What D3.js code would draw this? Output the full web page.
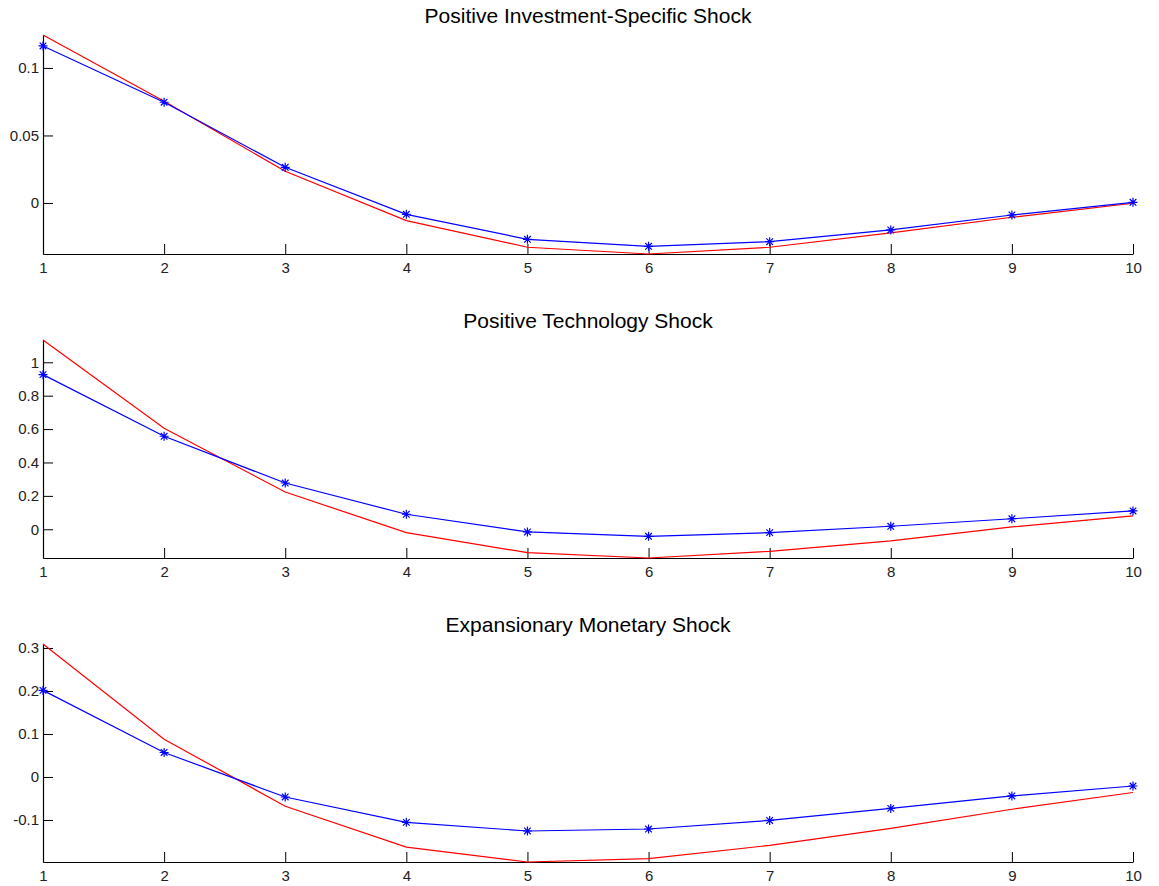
<!DOCTYPE html>
<html>
<head>
<meta charset="utf-8">
<script src="https://cdn.jsdelivr.net/npm/d3@7"></script>
<style>
  html, body { margin: 0; padding: 0; background: #fff; }
  svg { display: block; }
  text { font-family: "Liberation Sans", Arial, Helvetica, sans-serif; fill: #222; }
</style>
</head>
<body>
<svg id="chart" width="1159" height="886"></svg>
<script>
// ---------- data ----------
const periods = [1, 2, 3, 4, 5, 6, 7, 8, 9, 10];
const xTickLabels = ["1", "2", "3", "4", "5", "6", "7", "8", "9", "10"];

const titles = [
  "Positive Investment-Specific Shock",
  "Positive Technology Shock",
  "Expansionary Monetary Shock"
];

// red series (no markers)
const invRed  = [0.1244, 0.0753, 0.0235, -0.0131, -0.0328, -0.0378, -0.0328, -0.0222, -0.0106, -0.0002];
const techRed = [1.1335, 0.605, 0.223, -0.020, -0.140, -0.172, -0.132, -0.070, 0.014, 0.080];
const monRed  = [0.3093, 0.088, -0.068, -0.163, -0.1977, -0.190, -0.159, -0.1195, -0.075, -0.036];

// blue series (asterisk markers)
const invBlue  = [0.1163, 0.0746, 0.0264, -0.0084, -0.0269, -0.0321, -0.0287, -0.0200, -0.0089, 0.0005];
const techBlue = [0.926, 0.557, 0.277, 0.090, -0.016, -0.042, -0.020, 0.018, 0.063, 0.110];
const monBlue  = [0.2014, 0.057, -0.0465, -0.1055, -0.1256, -0.121, -0.101, -0.073, -0.044, -0.021];

const invTicks  = [0, 0.05, 0.1];
const invTickLabels  = ["0", "0.05", "0.1"];
const techTicks = [0, 0.2, 0.4, 0.6, 0.8, 1];
const techTickLabels = ["0", "0.2", "0.4", "0.6", "0.8", "1"];
const monTicks  = [-0.1, 0, 0.1, 0.2, 0.3];
const monTickLabels  = ["-0.1", "0", "0.1", "0.2", "0.3"];

const panels = [
  { title: titles[0], red: invRed,  blue: invBlue,  ticks: invTicks,  labels: invTickLabels,  top: 35,  bottom: 254 },
  { title: titles[1], red: techRed, blue: techBlue, ticks: techTicks, labels: techTickLabels, top: 340, bottom: 558 },
  { title: titles[2], red: monRed,  blue: monBlue,  ticks: monTicks,  labels: monTickLabels,  top: 644, bottom: 862 }
];

// ---------- drawing ----------
const svg = d3.select("#chart");
const left = 43, right = 1133;

const x = d3.scaleLinear().domain([1, 10]).range([left, right]);

panels.forEach(p => {
  const all = p.red.concat(p.blue);
  const y = d3.scaleLinear().domain(d3.extent(all)).range([p.bottom, p.top]);

  const g = svg.append("g");

  // title
  g.append("text")
    .attr("x", (left + right) / 2)
    .attr("y", p.top - 12)
    .attr("text-anchor", "middle")
    .style("font-size", "21px")
    .style("fill", "#000")
    .text(p.title);

  // x axis
  const xAxis = d3.axisBottom(x)
    .tickValues(periods)
    .tickFormat((d, i) => xTickLabels[i])
    .tickSizeInner(-10)
    .tickSizeOuter(0)
    .tickPadding(8);
  const gx = g.append("g").attr("transform", `translate(0,${p.bottom})`).call(xAxis);

  // y axis
  const yAxis = d3.axisLeft(y)
    .tickValues(p.ticks)
    .tickFormat((d, i) => p.labels[i])
    .tickSizeInner(-10)
    .tickSizeOuter(0)
    .tickPadding(4);
  const gy = g.append("g").attr("transform", `translate(${left},0)`).call(yAxis);

  [gx, gy].forEach(a => {
    a.selectAll("path.domain").attr("stroke", "#000").attr("stroke-width", 1.2);
    a.selectAll(".tick line").attr("stroke", "#000");
    a.selectAll(".tick text").style("font-size", "15px").style("fill", "#222")
      .style("font-family", '"Liberation Sans", Arial, sans-serif');
  });

  const line = d3.line().x((d, i) => x(periods[i])).y(d => y(d));

  g.append("path").datum(p.red)
    .attr("d", line).attr("fill", "none")
    .attr("stroke", "#ff0000").attr("stroke-width", 1.2);

  g.append("path").datum(p.blue)
    .attr("d", line).attr("fill", "none")
    .attr("stroke", "#0000ff").attr("stroke-width", 1.2);

  // asterisk markers
  const r = 4.5, rd = 3.3;
  const star = `M0,${-r}L0,${r}M${-r},0L${r},0M${-rd},${-rd}L${rd},${rd}M${-rd},${rd}L${rd},${-rd}`;
  g.selectAll("path.mk").data(p.blue).enter().append("path")
    .attr("class", "mk")
    .attr("transform", (d, i) => `translate(${x(periods[i])},${y(d)})`)
    .attr("d", star)
    .attr("fill", "none")
    .attr("stroke", "#0000ff")
    .attr("stroke-width", 1.2);
});
</script>
</body>
</html>
